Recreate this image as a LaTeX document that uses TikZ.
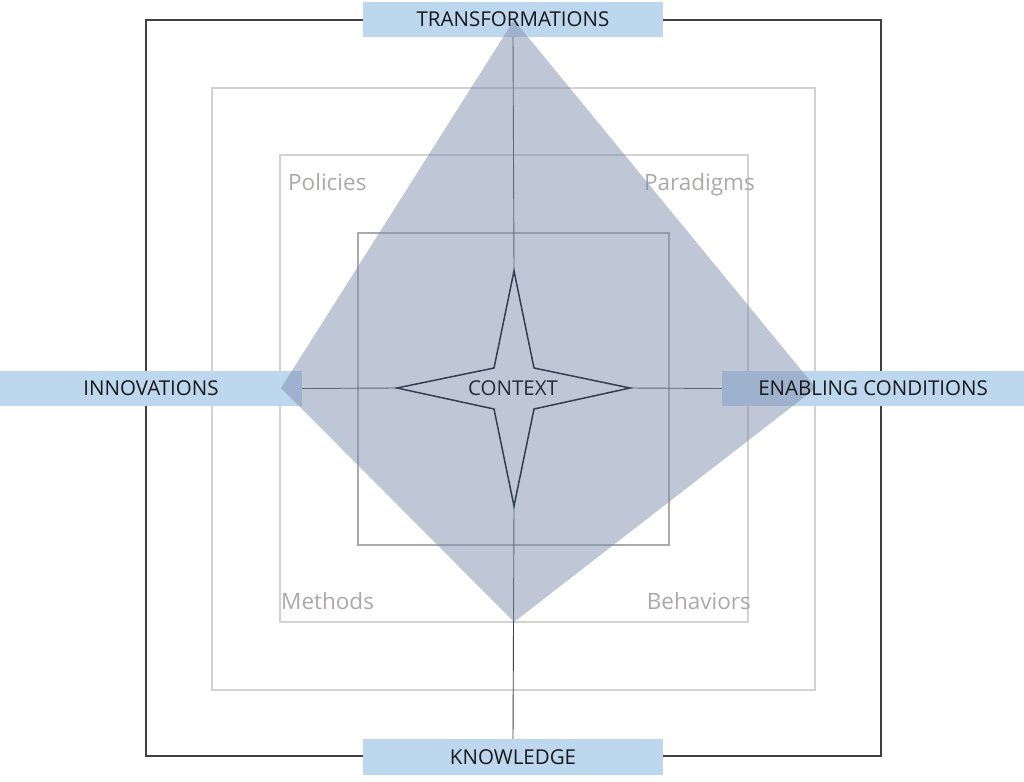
\documentclass[tikz,border=0pt]{standalone}
\usepackage{fontspec}
\setmainfont{Open Sans}
\definecolor{lblue}{RGB}{189,215,238}
\definecolor{dia}{RGB}{128,142,174}
\definecolor{outerc}{RGB}{64,64,64}
\definecolor{midc}{RGB}{210,210,210}
\definecolor{innerc}{RGB}{170,170,170}
\definecolor{graytxt}{RGB}{172,168,168}
\definecolor{starc}{RGB}{51,63,80}
\begin{document}
\begin{tikzpicture}[x=1pt,y=-1pt,
  lbl/.style={fill=lblue, draw=none, inner sep=0pt},
  lbltxt/.style={text=black!90, font=\fontsize{20.5}{24}\selectfont, inner sep=0pt},
  cornertxt/.style={text=graytxt, font=\fontsize{22.5}{26}\selectfont, inner sep=0pt},
  axisline/.style={draw=outerc, line width=0.9pt},
  outersq/.style={draw=outerc, line width=1.2pt},
  midsq/.style={draw=midc, line width=1.5pt},
  innersq/.style={draw=innerc, line width=1.2pt},
  diamondfill/.style={fill=dia, fill opacity=0.5, draw=none},
  starline/.style={draw=starc, line width=1.5pt, line join=miter}]
\useasboundingbox (0,0) rectangle (1024,781);
% squares
\draw[outersq] (146,20) rectangle (881,756);
\draw[midsq] (212,88) rectangle (815,690);
\draw[midsq] (280,155) rectangle (748,622);
\draw[innersq] (358,233) rectangle (669,545);
% corner texts
\node[cornertxt, anchor=base west] (pol) at (288,190) {Policies};
\node[cornertxt, anchor=base east] (par) at (755,190) {Paradigms};
\node[cornertxt, anchor=base west] (met) at (281,609) {Methods};
\node[cornertxt, anchor=base east] (beh) at (751,609) {Behaviors};
% label boxes
\node[lbl, minimum width=300pt, minimum height=35pt] (T) at (513,19.5) {};
\node[lbl, minimum width=300pt, minimum height=36pt] (B) at (513,757) {};
\node[lbl, minimum width=302pt, minimum height=35pt] (L) at (151,388.5) {};
\node[lbl, minimum width=302pt, minimum height=35pt] (R) at (873,388.5) {};
% star points
\coordinate (st) at (514,271);
\coordinate (sb) at (514,506);
\coordinate (sl) at (397,388);
\coordinate (sr) at (630,388);
\coordinate (i1) at (534,368);
\coordinate (i2) at (534,409);
\coordinate (i3) at (494,409);
\coordinate (i4) at (494,368);
% axes
\draw[axisline] (T.south) -- (st);
\draw[axisline] (sb) -- (B.north);
\draw[axisline] (L.east) -- (sl);
\draw[axisline] (sr) -- (R.west);
% diamond
\coordinate (dt) at (514,20);
\coordinate (dr) at (816,388);
\coordinate (db) at (514,622);
\coordinate (dl) at (281,388);
\fill[diamondfill] (dt) -- (dr) -- (db) -- (dl) -- cycle;
% star
\draw[starline] (st) -- (i1) -- (sr) -- (i2) -- (sb) -- (i3) -- (sl) -- (i4) -- cycle;
\node[lbltxt, text=starc!70!black] (ctx) at (513,388) {CONTEXT};
% label texts
\node[lbltxt] (Tt) at (T) {TRANSFORMATIONS};
\node[lbltxt] (Bt) at (B) {KNOWLEDGE};
\node[lbltxt] (Lt) at (L) {INNOVATIONS};
\node[lbltxt] (Rt) at (R) {ENABLING CONDITIONS};
\end{tikzpicture}
\end{document}
